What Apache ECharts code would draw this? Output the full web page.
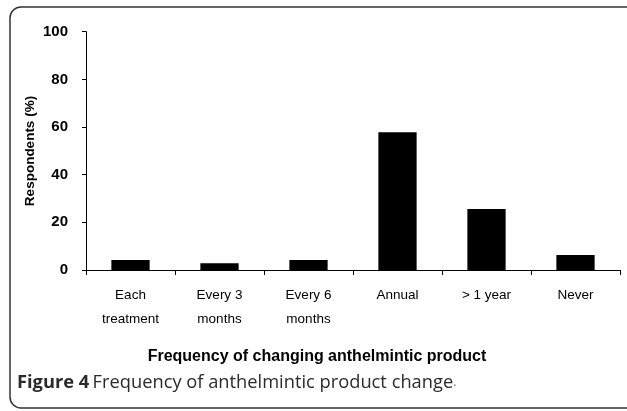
<!DOCTYPE html>
<html>
<head>
<meta charset="utf-8">
<script src="https://cdn.jsdelivr.net/npm/echarts@6/dist/echarts.min.js"></script>
<style>
  html, body { margin: 0; padding: 0; background: #fff; }
  #chart { width: 627px; height: 411px; }
</style>
</head>
<body>
<div id="chart"></div>
<script>
// categories and values
var categories = ['Each\ntreatment', 'Every 3\nmonths', 'Every 6\nmonths', 'Annual', '> 1 year', 'Never'];
var respondents = [4.2, 2.8, 4.2, 57.8, 25.6, 6.3];
var yTicks = [0, 20, 40, 60, 80, 100];

var chart = echarts.init(document.getElementById('chart'));

var option = {
  animation: false,
  backgroundColor: '#fff',
  grid: { left: 86, top: 31.7, right: 7, bottom: 141 },
  xAxis: {
    type: 'category',
    data: categories,
    axisLine: { lineStyle: { color: '#000', width: 1 } },
    axisTick: { show: true, length: 5, lineStyle: { color: '#000' } },
    axisLabel: {
      color: '#000', fontFamily: 'Liberation Sans', fontSize: 13.5,
      lineHeight: 24, margin: 13
    }
  },
  yAxis: {
    type: 'value',
    min: yTicks[0], max: yTicks[yTicks.length - 1], interval: 20,
    axisLine: { show: true, lineStyle: { color: '#000', width: 1 } },
    axisTick: { show: true, length: 4, lineStyle: { color: '#000' } },
    splitLine: { show: false },
    axisLabel: { color: '#000', fontFamily: 'Liberation Sans', fontWeight: 'bold', fontSize: 15, margin: 18 }
  },
  series: [{
    type: 'bar',
    data: respondents,
    barWidth: '43%',
    itemStyle: { color: '#000' }
  }],
  graphic: [
    {
      type: 'rect',
      shape: { x: 10, y: 7, width: 640, height: 401, r: 11 },
      style: { fill: 'none', stroke: '#333', lineWidth: 1.5 },
      silent: true
    },
    {
      type: 'text',
      x: 30, y: 151,
      rotation: Math.PI / 2,
      style: {
        text: 'Respondents (%)',
        fontFamily: 'Liberation Sans', fontWeight: 'bold', fontSize: 13.5,
        fill: '#000', align: 'center', verticalAlign: 'middle'
      }
    },
    {
      type: 'text',
      x: 317, y: 357,
      style: {
        text: 'Frequency of changing anthelmintic product',
        fontFamily: 'Liberation Sans', fontWeight: 'bold', fontSize: 16,
        fill: '#000', align: 'center', verticalAlign: 'middle'
      }
    },
    {
      type: 'text',
      x: 17, y: 383,
      style: {
        text: '{b|Figure 4} {r|Frequency of anthelmintic product change}{d|.}',
        verticalAlign: 'middle',
        rich: {
          b: { fontFamily: 'Open Sans', fontWeight: 'bold', fontSize: 18.3, fill: '#2b2b2b' },
          r: { fontFamily: 'Open Sans', fontSize: 18.3, fill: '#2b2b2b' },
          d: { fontFamily: 'Open Sans', fontSize: 12, fill: '#666' }
        }
      }
    }
  ]
};

chart.setOption(option);
</script>
</body>
</html>
